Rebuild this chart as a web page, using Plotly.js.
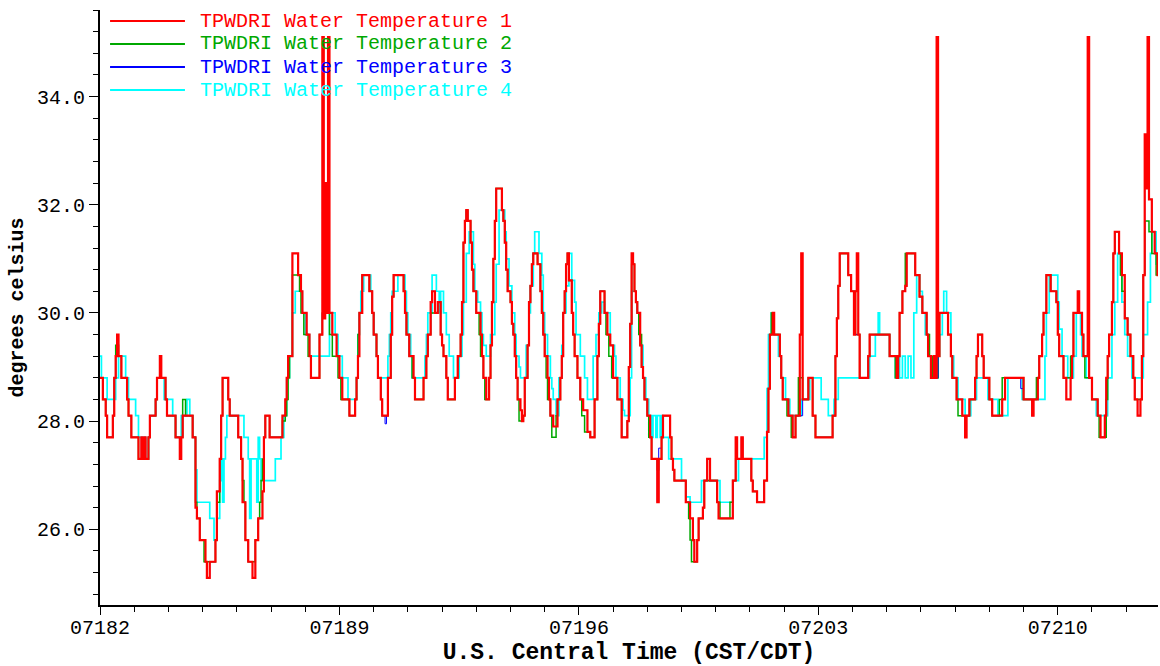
<!DOCTYPE html>
<html><head><meta charset="utf-8">
<script src="https://cdn.plot.ly/plotly-3.0.1.min.js"></script>
<style>html,body{margin:0;padding:0;background:#fff}#chart{width:1160px;height:666px}</style>
</head><body><div id="chart"></div>
<script>
// Time is in hours after 07182 00:00, values in degrees Celsius; each pair = [hour, value] where a new step starts.
const seriesNames = ['TPWDRI Water Temperature 1','TPWDRI Water Temperature 2','TPWDRI Water Temperature 3','TPWDRI Water Temperature 4'];
const seriesColors = ['#ff0000','#00a800','#0000ff','#00ffff'];

const temp1 = [[0,28.8],[2,28.4],[4,28.1],[5,27.7],[9,28.1],[10,28.8],[11,29.2],[12,29.6],[13,29.2],[15,28.8],[19,28.4],[20,28.1],[22,27.7],[27,27.3],[29,27.7],[30,27.3],[31,27.7],[32,27.3],[34,27.7],[35,28.1],[39,28.4],[40,28.8],[42,29.2],[43,28.8],[46,28.4],[47,28.1],[53,27.7],[56,27.3],[57,27.7],[58,28.1],[65,27.7],[67,26.4],[68,26.2],[70,25.8],[74,25.4],[75,25.1],[77,25.4],[81,25.8],[82,26.7],[84,27.3],[85,28.1],[86,28.8],[90,28.4],[91,28.1],[97,27.7],[99,27.3],[100,26.5],[102,25.8],[104,25.4],[107,25.1],[109,25.8],[111,26.2],[114,26.7],[115,27.7],[116,28.1],[119,27.7],[128,28.1],[130,28.4],[131,28.8],[132,29.2],[135,31.1],[139,30.7],[141,30.4],[142,30.0],[145,29.6],[147,29.2],[148,28.8],[154,29.6],[156,35.1],[157,29.9],[158,32.4],[159,30.0],[160,35.1],[161,30.0],[163,29.6],[166,29.2],[168,28.8],[170,28.4],[175,28.1],[179,28.4],[180,28.8],[181,29.2],[182,30.0],[184,30.7],[189,30.4],[191,30.0],[192,29.6],[194,29.2],[195,28.8],[197,28.4],[198,28.1],[202,28.8],[204,29.6],[205,30.3],[206,30.7],[213,30.4],[214,30.0],[215,29.6],[217,29.2],[220,28.8],[221,28.4],[227,28.8],[229,29.2],[230,29.6],[232,30.2],[233,30.4],[235,30.0],[237,30.2],[239,29.6],[240,29.4],[241,29.2],[243,28.8],[244,28.4],[249,28.8],[251,29.2],[253,29.6],[254,30.2],[255,31.3],[256,31.7],[257,31.9],[258,31.7],[260,31.3],[261,30.8],[262,30.4],[264,30.0],[267,29.6],[268,29.2],[269,28.8],[271,28.4],[273,28.8],[274,29.4],[275,30.2],[276,31.0],[277,31.7],[278,32.3],[282,31.9],[283,31.7],[284,31.3],[285,30.8],[286,30.4],[288,30.2],[289,29.8],[290,29.6],[291,29.2],[292,28.8],[293,28.4],[295,28.2],[296,28.0],[297,28.1],[298,28.8],[300,29.4],[301,30.2],[302,30.5],[303,30.9],[304,31.1],[307,30.9],[309,30.4],[310,30.0],[311,29.6],[312,29.2],[314,28.8],[315,28.4],[316,28.1],[318,27.9],[321,28.4],[323,28.8],[324,29.2],[325,30.0],[326,30.4],[327,30.9],[328,31.1],[329,30.6],[331,30.0],[332,29.6],[333,29.2],[335,28.8],[337,28.4],[339,28.2],[342,27.8],[344,27.7],[347,28.4],[349,29.2],[350,29.8],[351,30.4],[354,30.0],[356,29.6],[358,29.4],[360,28.8],[363,28.4],[366,27.7],[370,28.0],[371,29.0],[372,29.8],[373,31.1],[374,30.9],[375,30.4],[376,30.2],[377,30.0],[379,29.4],[380,29.0],[381,28.8],[382,28.4],[384,28.1],[386,27.7],[387,27.3],[391,26.5],[392,27.3],[394,27.7],[395,28.1],[400,27.7],[401,27.3],[402,27.1],[403,26.9],[411,26.5],[414,26.2],[416,25.8],[417,25.4],[419,25.8],[420,26.2],[423,26.4],[424,26.9],[426,27.3],[428,26.9],[433,26.5],[434,26.2],[444,26.9],[446,27.7],[447,27.3],[450,27.7],[451,27.3],[457,26.9],[458,26.7],[461,26.5],[466,26.9],[468,27.8],[469,28.6],[470,29.6],[472,30.0],[473,29.6],[477,29.2],[478,28.8],[479,28.4],[483,28.1],[486,27.7],[488,28.1],[491,29.6],[492,31.1],[493,28.4],[497,28.8],[500,28.1],[502,27.7],[514,28.1],[516,29.2],[517,29.9],[518,30.5],[519,31.1],[525,30.7],[527,30.4],[529,29.6],[530,30.4],[531,31.1],[532,29.6],[533,28.8],[539,29.2],[540,29.6],[554,29.2],[559,28.8],[560,29.2],[561,30.0],[563,30.4],[565,30.5],[566,31.1],[572,30.7],[575,30.3],[577,30.0],[580,29.6],[581,29.2],[583,28.8],[585,29.2],[586,28.8],[587,35.1],[588,29.2],[589,30.0],[595,29.6],[597,29.2],[598,28.8],[601,28.4],[605,28.1],[607,27.7],[608,28.1],[610,28.4],[614,28.8],[615,29.2],[616,29.6],[619,29.2],[620,28.8],[624,28.4],[626,28.1],[633,28.4],[635,28.8],[648,28.4],[654,28.1],[655,28.4],[658,28.8],[659,29.2],[661,29.6],[662,30.0],[664,30.7],[667,30.4],[671,30.2],[672,29.6],[673,29.2],[676,28.8],[678,28.4],[681,28.8],[682,29.2],[683,30.0],[686,30.4],[687,30.0],[689,29.6],[690,29.2],[693,35.1],[694,28.8],[696,28.4],[700,28.1],[702,27.7],[705,28.1],[706,28.8],[707,29.2],[708,29.6],[710,30.2],[711,31.1],[712,31.5],[715,31.1],[717,30.7],[719,29.9],[721,29.6],[723,29.2],[725,28.8],[726,28.4],[728,28.1],[730,28.4],[731,29.2],[732,30.7],[733,33.3],[734,32.3],[735,35.1],[736,32.1],[738,31.5],[740,31.1],[742,30.7],[744,30.7]];

const temp2 = [[0,28.8],[2,28.4],[4,28.1],[5,27.7],[9,28.1],[10,28.8],[11,29.4],[13,29.2],[15,28.8],[19,28.4],[20,28.1],[22,27.7],[27,27.3],[34,27.7],[35,28.1],[39,28.4],[40,28.8],[46,28.4],[47,28.1],[53,27.7],[56,27.7],[58,28.4],[60,28.1],[65,27.7],[67,26.5],[68,26.2],[70,25.8],[73,25.4],[81,25.8],[82,26.5],[84,27.3],[85,28.1],[86,28.8],[90,28.4],[91,28.1],[97,27.7],[99,27.3],[100,26.9],[101,26.5],[102,25.8],[104,25.4],[109,25.8],[111,26.2],[112,26.5],[113,26.9],[114,27.3],[115,27.7],[116,28.1],[119,27.7],[126,27.7],[128,28.0],[130,28.1],[131,28.4],[132,28.8],[133,29.2],[135,30.7],[140,30.4],[141,30.0],[143,29.6],[146,29.2],[148,28.8],[154,29.6],[156,30.0],[161,29.6],[163,29.2],[167,28.8],[169,28.4],[175,28.1],[179,28.4],[180,28.8],[181,29.6],[182,30.0],[184,30.7],[189,30.4],[191,30.0],[192,29.6],[194,29.2],[195,28.8],[197,28.4],[198,28.1],[202,28.8],[204,29.6],[205,30.3],[206,30.7],[213,30.4],[214,30.0],[215,29.6],[217,29.2],[219,28.8],[221,28.4],[227,28.8],[229,29.2],[230,29.6],[232,30.0],[237,30.2],[239,29.6],[240,29.4],[241,29.2],[243,28.8],[244,28.4],[249,28.8],[251,29.2],[253,29.6],[254,30.2],[255,31.3],[256,31.7],[257,31.9],[258,31.7],[260,31.3],[261,30.8],[262,30.4],[264,30.0],[266,29.6],[267,29.2],[269,28.8],[270,28.4],[273,28.8],[274,29.4],[275,30.2],[276,31.0],[277,31.7],[278,32.3],[282,31.9],[283,31.7],[284,31.3],[285,30.8],[286,30.4],[288,30.2],[289,29.8],[290,29.6],[291,29.2],[292,28.8],[293,28.4],[294,28.0],[297,28.1],[298,28.8],[300,29.4],[301,30.2],[302,30.5],[303,30.9],[304,31.1],[307,30.9],[309,30.4],[310,30.0],[311,29.6],[312,29.2],[313,28.8],[314,28.4],[316,28.1],[317,27.7],[320,28.1],[321,28.4],[323,28.8],[324,29.2],[325,30.0],[326,30.4],[327,30.9],[328,31.1],[329,30.6],[331,30.0],[332,29.6],[333,29.2],[335,28.8],[337,28.4],[338,28.1],[340,27.8],[344,27.7],[347,28.4],[349,29.2],[350,29.8],[351,30.4],[354,30.0],[355,29.6],[357,29.2],[359,28.8],[363,28.4],[366,27.7],[370,28.0],[371,29.0],[372,29.8],[373,30.9],[375,30.4],[376,30.2],[377,30.0],[378,29.6],[380,29.0],[381,28.8],[382,28.4],[384,28.1],[385,27.7],[387,27.3],[391,27.1],[392,27.3],[394,27.7],[395,28.1],[400,27.7],[401,27.3],[402,27.1],[403,26.9],[411,26.5],[413,26.2],[414,25.8],[415,25.4],[419,25.8],[420,26.2],[423,26.4],[424,26.9],[433,26.5],[435,26.2],[442,26.5],[444,26.9],[446,27.3],[457,26.9],[458,26.7],[461,26.5],[466,26.9],[468,27.8],[469,28.6],[470,29.6],[471,30.0],[473,29.6],[477,29.2],[478,28.8],[479,28.4],[482,28.1],[485,27.7],[488,28.1],[490,28.8],[493,28.4],[497,28.8],[500,28.1],[502,27.7],[514,28.1],[516,29.2],[517,29.9],[518,30.5],[519,31.1],[525,30.7],[527,30.4],[530,29.6],[533,28.8],[539,29.2],[540,29.6],[554,29.2],[558,28.8],[560,29.2],[561,30.0],[563,30.4],[565,31.1],[572,30.7],[575,30.3],[577,30.0],[580,29.6],[582,29.2],[584,28.8],[588,29.2],[589,30.0],[595,29.6],[597,29.2],[598,28.8],[601,28.4],[602,28.1],[610,28.4],[614,28.8],[615,29.2],[616,29.6],[619,29.2],[620,28.8],[624,28.4],[626,28.1],[631,28.4],[633,28.8],[648,28.4],[657,28.8],[659,29.2],[661,29.6],[662,30.0],[664,30.7],[667,30.4],[671,30.2],[672,29.6],[673,29.2],[676,28.8],[681,29.2],[683,30.0],[689,29.6],[690,29.2],[691,28.8],[696,28.4],[700,28.1],[701,27.7],[706,28.4],[707,29.2],[708,29.6],[710,30.2],[711,31.1],[712,31.5],[715,31.1],[716,30.7],[717,30.4],[719,29.9],[721,29.6],[723,29.2],[725,28.8],[726,28.4],[730,28.4],[731,29.2],[732,30.7],[733,31.7],[736,31.5],[738,31.1],[741,30.7],[744,30.7]];

const temp3 = [[0,28.8],[2,28.4],[4,28.1],[5,27.7],[9,28.1],[10,28.8],[11,29.2],[12,29.6],[13,29.2],[15,28.8],[19,28.4],[20,28.1],[22,27.7],[27,27.3],[29,27.7],[30,27.3],[31,27.7],[32,27.3],[34,27.7],[35,28.1],[39,28.4],[40,28.8],[42,29.2],[43,28.8],[46,28.4],[47,28.1],[53,27.7],[56,27.3],[57,27.7],[58,28.1],[65,27.7],[67,26.4],[68,26.2],[70,25.8],[74,25.4],[75,25.1],[77,25.4],[81,25.8],[82,26.7],[84,27.3],[85,28.1],[86,28.8],[90,28.4],[91,28.1],[97,27.7],[99,27.3],[100,26.5],[102,25.8],[104,25.4],[107,25.1],[109,25.8],[111,26.2],[114,26.7],[115,27.7],[116,28.1],[119,27.7],[128,28.1],[130,28.4],[131,28.8],[132,29.2],[135,31.1],[139,30.7],[141,30.4],[142,30.0],[145,29.6],[147,29.2],[148,28.8],[154,29.6],[156,30.0],[163,29.6],[166,29.2],[168,28.8],[170,28.4],[175,28.1],[179,28.4],[180,28.8],[181,29.2],[182,30.0],[184,30.7],[189,30.4],[191,30.0],[192,29.6],[194,29.2],[195,28.8],[197,28.4],[198,28.1],[200,27.95],[201,28.1],[202,28.8],[204,29.6],[205,30.3],[206,30.7],[213,30.4],[214,30.0],[215,29.6],[217,29.2],[220,28.8],[221,28.4],[227,28.8],[229,29.2],[230,29.6],[232,30.2],[233,30.4],[235,30.0],[237,30.2],[239,29.6],[240,29.4],[241,29.2],[243,28.8],[244,28.4],[249,28.8],[251,29.2],[253,29.6],[254,30.2],[255,31.3],[256,31.7],[257,31.9],[258,31.7],[260,31.3],[261,30.8],[262,30.4],[264,30.0],[267,29.6],[268,29.2],[269,28.8],[271,28.4],[273,28.8],[274,29.4],[275,30.2],[276,31.0],[277,31.7],[278,32.3],[282,31.9],[283,31.7],[284,31.3],[285,30.8],[286,30.4],[288,30.2],[289,29.8],[290,29.6],[291,29.2],[292,28.8],[293,28.4],[295,28.2],[296,28.0],[297,28.1],[298,28.8],[300,29.4],[301,30.2],[302,30.5],[303,30.9],[304,31.1],[307,30.9],[309,30.4],[310,30.0],[311,29.6],[312,29.2],[314,28.8],[315,28.4],[316,28.1],[318,27.9],[321,28.4],[323,28.8],[324,29.2],[325,30.0],[326,30.4],[327,30.9],[328,31.1],[329,30.6],[331,30.0],[332,29.6],[333,29.2],[335,28.8],[337,28.4],[339,28.2],[342,27.8],[344,27.7],[347,28.4],[349,29.2],[350,29.8],[351,30.4],[354,30.0],[356,29.6],[358,29.4],[360,28.8],[363,28.4],[366,27.7],[370,28.0],[371,29.0],[372,29.8],[373,31.1],[374,30.9],[375,30.4],[376,30.2],[377,30.0],[379,29.4],[380,29.0],[381,28.8],[382,28.4],[384,28.1],[386,27.7],[387,27.3],[391,26.5],[392,27.5],[394,27.7],[395,28.1],[400,27.7],[401,27.3],[402,27.1],[403,26.9],[411,26.5],[414,26.2],[416,25.8],[417,25.4],[419,25.8],[420,26.2],[423,26.4],[424,26.9],[426,27.3],[428,26.9],[433,26.5],[434,26.2],[444,26.9],[446,27.7],[447,27.3],[450,27.7],[451,27.3],[457,26.9],[458,26.7],[461,26.5],[466,26.9],[468,27.8],[469,28.6],[470,29.6],[472,30.0],[473,29.6],[477,29.2],[478,28.8],[479,28.4],[483,28.1],[486,27.7],[488,28.1],[493,28.4],[497,28.8],[500,28.1],[502,27.7],[514,28.1],[516,29.2],[517,29.9],[518,30.5],[519,31.1],[525,30.7],[527,30.4],[530,29.6],[533,28.8],[539,29.2],[540,29.6],[554,29.2],[559,28.8],[560,29.2],[561,30.0],[563,30.4],[565,30.5],[566,31.1],[572,30.7],[575,30.3],[577,30.0],[580,29.6],[581,29.2],[583,28.8],[585,29.2],[586,28.8],[588,29.2],[589,30.0],[595,29.6],[597,29.2],[598,28.8],[601,28.4],[605,28.1],[607,27.7],[608,28.1],[610,28.4],[614,28.8],[615,29.2],[616,29.6],[619,29.2],[620,28.8],[624,28.4],[626,28.1],[633,28.4],[635,28.8],[646,28.6],[648,28.4],[654,28.1],[655,28.4],[658,28.8],[659,29.2],[661,29.6],[662,30.0],[664,30.7],[667,30.4],[671,30.2],[672,29.6],[673,29.2],[676,28.8],[678,28.4],[681,28.8],[682,29.2],[683,30.0],[686,30.4],[687,30.0],[689,29.6],[690,29.2],[694,28.8],[696,28.4],[700,28.1],[702,27.7],[705,28.1],[706,28.8],[707,29.2],[708,29.6],[710,30.2],[711,31.1],[712,31.5],[715,31.1],[717,30.7],[719,29.9],[721,29.6],[723,29.2],[725,28.8],[726,28.4],[728,28.1],[730,28.4],[731,29.2],[732,30.7],[733,32.3],[736,32.1],[738,31.5],[740,31.1],[742,30.7],[744,30.7]];

const temp4 = [[0,29.2],[1,28.8],[5,28.4],[11,28.8],[13,29.2],[18,28.8],[20,28.4],[25,28.1],[27,27.7],[32,27.3],[34,27.7],[35,28.1],[39,28.4],[40,28.8],[45,28.4],[51,28.1],[53,27.7],[57,28.1],[61,28.4],[63,28.1],[65,27.7],[67,27.1],[68,26.5],[77,26.2],[80,25.8],[82,26.2],[84,26.9],[85,27.3],[86,26.5],[87,27.3],[88,27.7],[89,28.1],[101,27.7],[104,27.3],[105,26.2],[106,27.3],[110,26.5],[111,27.7],[112,27.3],[113,26.9],[123,27.3],[127,27.7],[129,28.1],[131,28.8],[133,29.2],[135,30.0],[137,30.4],[142,30.0],[144,29.6],[147,29.2],[161,30.0],[165,29.6],[167,29.2],[170,28.8],[174,28.4],[180,28.8],[181,29.6],[182,30.0],[183,30.4],[185,30.7],[190,30.4],[191,30.0],[192,29.6],[194,29.2],[195,28.8],[202,29.2],[203,29.6],[204,30.0],[205,30.4],[209,30.7],[214,30.4],[215,30.0],[216,29.6],[218,29.2],[219,28.8],[228,29.2],[229,29.6],[230,30.0],[233,30.7],[236,30.4],[238,30.0],[239,30.4],[241,30.0],[243,29.6],[245,29.2],[248,28.8],[252,29.2],[254,29.6],[255,30.2],[257,31.1],[259,31.5],[262,30.9],[263,30.4],[265,30.2],[267,30.0],[268,29.6],[269,29.4],[271,29.2],[274,29.6],[277,30.2],[278,30.9],[280,31.9],[284,31.5],[285,31.0],[287,30.5],[289,30.0],[291,29.6],[292,29.2],[294,29.0],[295,28.8],[299,29.4],[301,30.0],[302,30.5],[304,31.1],[305,31.5],[308,31.1],[310,30.7],[311,30.0],[312,29.6],[314,29.2],[316,28.8],[317,28.6],[318,28.4],[320,28.1],[322,28.8],[324,29.4],[325,30.0],[327,30.5],[329,31.1],[331,30.6],[333,30.2],[334,29.6],[337,29.2],[340,28.8],[342,28.4],[346,29.2],[348,29.6],[350,30.0],[352,30.2],[354,30.0],[358,29.4],[361,29.2],[362,28.8],[365,28.4],[367,28.2],[368,28.1],[372,28.8],[373,30.4],[376,30.2],[377,30.0],[379,29.4],[381,28.8],[383,28.4],[385,28.1],[387,27.7],[388,28.1],[390,27.7],[391,28.1],[393,27.7],[394,28.1],[395,27.7],[399,27.3],[408,26.9],[411,26.6],[414,26.5],[422,26.9],[435,26.5],[444,26.9],[448,27.3],[466,27.7],[468,28.6],[469,29.6],[471,30.0],[473,29.6],[476,29.2],[478,28.8],[481,28.4],[484,28.1],[492,28.4],[498,28.8],[506,28.4],[511,28.1],[515,28.4],[518,28.8],[540,29.2],[544,29.6],[546,30.0],[547,29.6],[554,29.2],[558,28.8],[559,29.2],[561,28.8],[563,29.2],[565,28.8],[567,29.2],[569,28.8],[571,30.0],[573,30.7],[575,30.4],[577,30.0],[579,29.6],[581,29.2],[583,28.8],[588,29.2],[589,29.6],[591,30.0],[592,30.4],[594,30.0],[597,29.2],[599,28.8],[602,28.4],[607,28.1],[611,28.4],[615,28.8],[623,28.4],[630,28.1],[637,28.8],[647,28.4],[663,29.2],[664,30.0],[666,30.7],[672,30.2],[673,29.7],[675,29.2],[679,28.8],[683,29.2],[685,30.0],[688,29.6],[689,29.2],[692,28.8],[696,28.4],[699,28.1],[707,28.8],[710,29.6],[712,30.2],[714,31.1],[716,30.7],[717,30.2],[719,29.6],[721,29.2],[724,28.8],[732,29.6],[735,30.2],[737,31.1],[738,31.5],[741,30.9],[744,30.9]];

const startDay = 182;
const tickDays = [182,189,196,203,210];
const tickLabels = ['07182','07189','07196','07203','07210'];
const yTickVals = [26,28,30,32,34];
const yTickLabels = ['26.0','28.0','30.0','32.0','34.0'];

const allSeries = [temp1, temp2, temp3, temp4];
const lineWidths = [2.2, 1.5, 1, 1.7];
function mk(i){
  const d = allSeries[i];
  return {
    type:'scatter', mode:'lines',
    x: d.map(p => startDay + p[0]/24),
    y: d.map(p => p[1]),
    line:{shape:'hv', color:seriesColors[i], width:lineWidths[i]},
    name:seriesNames[i],
    hoverinfo:'skip'
  };
}
// draw order: 4 (bottom), 2, 3, 1 (top)
const data = [mk(3), mk(1), mk(2), mk(0)];

const mono = 'Liberation Mono, DejaVu Sans Mono, monospace';

// Legend drawn as paper-positioned keys (line sample + coloured label), top-left inside the plot
const legendShapes = [], legendLabels = [];
const legendRowsY = [0.9815, 0.9429, 0.9042, 0.8655];
seriesNames.forEach((nm, i) => {
  legendShapes.push({type:'line', xref:'paper', yref:'paper', x0:0.0095, x1:0.0803, y0:legendRowsY[i], y1:legendRowsY[i],
                     line:{color:seriesColors[i], width:2}});
  legendLabels.push({xref:'paper', yref:'paper', x:0.0925, y:legendRowsY[i], xanchor:'left', yanchor:'middle',
                     text:nm, showarrow:false, font:{family:mono, size:20, color:seriesColors[i]}});
});

const layout = {
  width:1160, height:666,
  margin:{l:100, r:2, t:10, b:61},
  paper_bgcolor:'#fff', plot_bgcolor:'#fff',
  showlegend:false,
  shapes:legendShapes,
  annotations:legendLabels,
  xaxis:{range:[182, 212.93], showgrid:false, zeroline:false,
         showline:true, linecolor:'#000', linewidth:2,
         tickmode:'array', tickvals:tickDays, ticktext:tickLabels,
         ticks:'outside', ticklen:8, tickwidth:1, tickcolor:'#000', ticklabelstandoff:-5,
         minor:{dtick:1, tick0:182, ticks:'outside', ticklen:5, tickcolor:'#000', tickwidth:1, showgrid:false},
         tickfont:{family:mono, size:20, color:'#000'},
         title:{text:'U.S. Central Time (CST/CDT)', font:{family:mono, size:23, color:'#000', weight:'bold'}, standoff:10}},
  yaxis:{range:[24.6, 35.6], showgrid:false, zeroline:false,
         showline:true, linecolor:'#000', linewidth:2,
         tickmode:'array', tickvals:yTickVals, ticktext:yTickLabels,
         ticks:'outside', ticklen:9, tickwidth:1, tickcolor:'#000',
         minor:{dtick:0.4, tick0:26, ticks:'outside', ticklen:5, tickcolor:'#000', tickwidth:1, showgrid:false},
         tickfont:{family:mono, size:20, color:'#000'},
         title:{text:'degrees celsius', font:{family:mono, size:20, color:'#000', weight:'bold'}, standoff:8}}
};
Plotly.newPlot('chart', data, layout, {displayModeBar:false, staticPlot:true});
</script>
</body></html>
